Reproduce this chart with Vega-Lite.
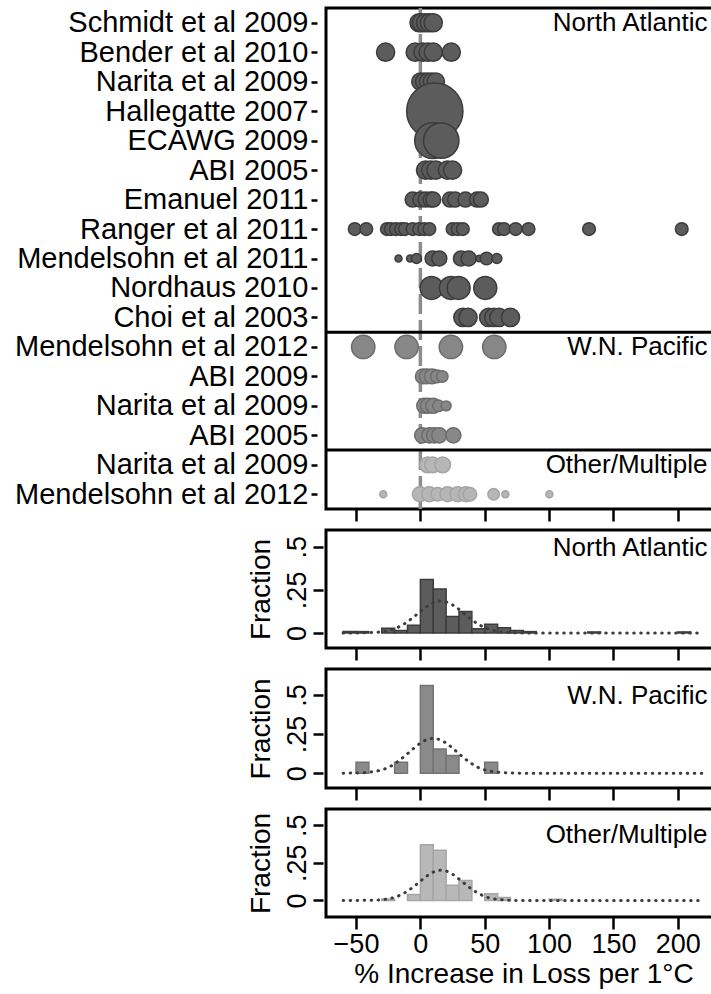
{
  "$schema": "https://vega.github.io/schema/vega-lite/v6.json",
  "padding": {"left": 13, "top": 4, "right": 0, "bottom": 0},
  "spacing": 4,
  "config": {
    "font": "Liberation Sans",
    "view": {"stroke": "#000000", "strokeWidth": 3},
    "axis": {"grid": false, "domain": false, "tickColor": "#000000", "tickWidth": 2.5, "labelColor": "#000000", "titleColor": "#000000", "labelFontSize": 27, "titleFontSize": 28, "titleFontWeight": "normal", "labelFont": "Liberation Sans", "titleFont": "Liberation Sans", "labelLimit": 0, "labelOverlap": false},
    "text": {"font": "Liberation Sans"}
  },
  "datasets": {
    "dots": [
      {"row": 0, "region": "NA", "v": -1, "w": 10}, {"row": 0, "region": "NA", "v": 1, "w": 10}, {"row": 0, "region": "NA", "v": 4, "w": 10}, {"row": 0, "region": "NA", "v": 7, "w": 10}, {"row": 0, "region": "NA", "v": 10, "w": 10},
      {"row": 1, "region": "NA", "v": -27, "w": 10}, {"row": 1, "region": "NA", "v": -4, "w": 10}, {"row": 1, "region": "NA", "v": 2, "w": 10}, {"row": 1, "region": "NA", "v": 6, "w": 10}, {"row": 1, "region": "NA", "v": 10, "w": 10}, {"row": 1, "region": "NA", "v": 24, "w": 10},
      {"row": 2, "region": "NA", "v": 0, "w": 9}, {"row": 2, "region": "NA", "v": 3, "w": 9}, {"row": 2, "region": "NA", "v": 6, "w": 9}, {"row": 2, "region": "NA", "v": 9, "w": 9}, {"row": 2, "region": "NA", "v": 12, "w": 9},
      {"row": 3, "region": "NA", "v": 11.2, "w": 96},
      {"row": 4, "region": "NA", "v": 9.5, "w": 39}, {"row": 4, "region": "NA", "v": 16.2, "w": 38},
      {"row": 5, "region": "NA", "v": 4, "w": 10}, {"row": 5, "region": "NA", "v": 8, "w": 10}, {"row": 5, "region": "NA", "v": 12, "w": 10}, {"row": 5, "region": "NA", "v": 21, "w": 10}, {"row": 5, "region": "NA", "v": 25, "w": 10},
      {"row": 6, "region": "NA", "v": -6, "w": 6.8}, {"row": 6, "region": "NA", "v": 0, "w": 6.8}, {"row": 6, "region": "NA", "v": 4, "w": 6.8}, {"row": 6, "region": "NA", "v": 8, "w": 6.8}, {"row": 6, "region": "NA", "v": 10, "w": 6.8}, {"row": 6, "region": "NA", "v": 23, "w": 6.8}, {"row": 6, "region": "NA", "v": 27, "w": 6.8}, {"row": 6, "region": "NA", "v": 35, "w": 6.8}, {"row": 6, "region": "NA", "v": 44, "w": 6.8}, {"row": 6, "region": "NA", "v": 47, "w": 6.8},
      {"row": 7, "region": "NA", "v": -51, "w": 4.9}, {"row": 7, "region": "NA", "v": -42, "w": 4.9}, {"row": 7, "region": "NA", "v": -26, "w": 4.9}, {"row": 7, "region": "NA", "v": -23, "w": 4.9}, {"row": 7, "region": "NA", "v": -19, "w": 4.9}, {"row": 7, "region": "NA", "v": -15, "w": 4.9}, {"row": 7, "region": "NA", "v": -12, "w": 4.9}, {"row": 7, "region": "NA", "v": -6, "w": 4.9}, {"row": 7, "region": "NA", "v": -1, "w": 4.9}, {"row": 7, "region": "NA", "v": 3, "w": 4.9}, {"row": 7, "region": "NA", "v": 7, "w": 4.9}, {"row": 7, "region": "NA", "v": 25, "w": 4.9}, {"row": 7, "region": "NA", "v": 29, "w": 4.9}, {"row": 7, "region": "NA", "v": 33, "w": 4.9}, {"row": 7, "region": "NA", "v": 61, "w": 4.9}, {"row": 7, "region": "NA", "v": 65, "w": 4.9}, {"row": 7, "region": "NA", "v": 74, "w": 4.9}, {"row": 7, "region": "NA", "v": 84, "w": 4.9}, {"row": 7, "region": "NA", "v": 131, "w": 4.9}, {"row": 7, "region": "NA", "v": 203, "w": 4.9},
      {"row": 8, "region": "NA", "v": -17, "w": 1.5}, {"row": 8, "region": "NA", "v": -8, "w": 1.5}, {"row": 8, "region": "NA", "v": -3, "w": 3}, {"row": 8, "region": "NA", "v": 9.5, "w": 6.8}, {"row": 8, "region": "NA", "v": 14.7, "w": 6.8}, {"row": 8, "region": "NA", "v": 31.5, "w": 6.8}, {"row": 8, "region": "NA", "v": 37.5, "w": 6.8}, {"row": 8, "region": "NA", "v": 45.8, "w": 1.3}, {"row": 8, "region": "NA", "v": 51.4, "w": 4.9}, {"row": 8, "region": "NA", "v": 59.4, "w": 3},
      {"row": 9, "region": "NA", "v": 8.7, "w": 16}, {"row": 9, "region": "NA", "v": 23.7, "w": 16}, {"row": 9, "region": "NA", "v": 29.7, "w": 16}, {"row": 9, "region": "NA", "v": 50.4, "w": 16},
      {"row": 10, "region": "NA", "v": 33, "w": 10}, {"row": 10, "region": "NA", "v": 37, "w": 10}, {"row": 10, "region": "NA", "v": 53, "w": 10}, {"row": 10, "region": "NA", "v": 57, "w": 10}, {"row": 10, "region": "NA", "v": 61, "w": 10}, {"row": 10, "region": "NA", "v": 70, "w": 10},
      {"row": 11, "region": "WNP", "v": -44.4, "w": 16.5}, {"row": 11, "region": "WNP", "v": -10.7, "w": 16.5}, {"row": 11, "region": "WNP", "v": 23.7, "w": 16.5}, {"row": 11, "region": "WNP", "v": 57.4, "w": 16.5},
      {"row": 12, "region": "WNP", "v": 2, "w": 6.8}, {"row": 12, "region": "WNP", "v": 5, "w": 6.8}, {"row": 12, "region": "WNP", "v": 9, "w": 6.8}, {"row": 12, "region": "WNP", "v": 13, "w": 5}, {"row": 12, "region": "WNP", "v": 17, "w": 4},
      {"row": 13, "region": "WNP", "v": 3, "w": 6.8}, {"row": 13, "region": "WNP", "v": 6, "w": 6.8}, {"row": 13, "region": "WNP", "v": 10, "w": 6.8}, {"row": 13, "region": "WNP", "v": 14, "w": 4}, {"row": 13, "region": "WNP", "v": 20, "w": 3},
      {"row": 14, "region": "WNP", "v": 1.4, "w": 7}, {"row": 14, "region": "WNP", "v": 7, "w": 7}, {"row": 14, "region": "WNP", "v": 10.8, "w": 7}, {"row": 14, "region": "WNP", "v": 14.7, "w": 7}, {"row": 14, "region": "WNP", "v": 25.6, "w": 7},
      {"row": 15, "region": "OTH", "v": 5.6, "w": 7.5}, {"row": 15, "region": "OTH", "v": 9.5, "w": 7.5}, {"row": 15, "region": "OTH", "v": 17.3, "w": 7.5},
      {"row": 16, "region": "OTH", "v": -28.8, "w": 1.5}, {"row": 16, "region": "OTH", "v": -0.4, "w": 6.8}, {"row": 16, "region": "OTH", "v": 6.9, "w": 6.8}, {"row": 16, "region": "OTH", "v": 13.4, "w": 5.5}, {"row": 16, "region": "OTH", "v": 21.1, "w": 6.8}, {"row": 16, "region": "OTH", "v": 28.9, "w": 6.8}, {"row": 16, "region": "OTH", "v": 35.4, "w": 6.8}, {"row": 16, "region": "OTH", "v": 38.5, "w": 5.5}, {"row": 16, "region": "OTH", "v": 56.9, "w": 4}, {"row": 16, "region": "OTH", "v": 66, "w": 1.5}, {"row": 16, "region": "OTH", "v": 100.2, "w": 1.5}
    ],
    "hist": [
      {"region": "NA", "b0": -60, "b1": -50, "f": 0.008}, {"region": "NA", "b0": -50, "b1": -40, "f": 0.008}, {"region": "NA", "b0": -30, "b1": -20, "f": 0.028}, {"region": "NA", "b0": -20, "b1": -10, "f": 0.015}, {"region": "NA", "b0": -10, "b1": 0, "f": 0.045}, {"region": "NA", "b0": 0, "b1": 10, "f": 0.31}, {"region": "NA", "b0": 10, "b1": 20, "f": 0.255}, {"region": "NA", "b0": 20, "b1": 30, "f": 0.095}, {"region": "NA", "b0": 30, "b1": 40, "f": 0.125}, {"region": "NA", "b0": 40, "b1": 50, "f": 0.025}, {"region": "NA", "b0": 50, "b1": 60, "f": 0.05}, {"region": "NA", "b0": 60, "b1": 70, "f": 0.03}, {"region": "NA", "b0": 70, "b1": 80, "f": 0.015}, {"region": "NA", "b0": 80, "b1": 90, "f": 0.008}, {"region": "NA", "b0": 130, "b1": 140, "f": 0.006}, {"region": "NA", "b0": 200, "b1": 210, "f": 0.006},
      {"region": "WNP", "b0": -50, "b1": -40, "f": 0.07}, {"region": "WNP", "b0": -20, "b1": -10, "f": 0.07}, {"region": "WNP", "b0": 0, "b1": 10, "f": 0.56}, {"region": "WNP", "b0": 10, "b1": 20, "f": 0.155}, {"region": "WNP", "b0": 20, "b1": 30, "f": 0.113}, {"region": "WNP", "b0": 50, "b1": 60, "f": 0.07},
      {"region": "OTH", "b0": -30, "b1": -20, "f": 0.01}, {"region": "OTH", "b0": -10, "b1": 0, "f": 0.04}, {"region": "OTH", "b0": 0, "b1": 10, "f": 0.37}, {"region": "OTH", "b0": 10, "b1": 20, "f": 0.333}, {"region": "OTH", "b0": 20, "b1": 30, "f": 0.1}, {"region": "OTH", "b0": 30, "b1": 40, "f": 0.133}, {"region": "OTH", "b0": 50, "b1": 60, "f": 0.044}, {"region": "OTH", "b0": 60, "b1": 70, "f": 0.02}, {"region": "OTH", "b0": 100, "b1": 110, "f": 0.008}
    ],
    "curves": [
      {"region": "NA", "v": -60, "f": 0}, {"region": "NA", "v": -50, "f": 0}, {"region": "NA", "v": -40, "f": 0.002}, {"region": "NA", "v": -30, "f": 0.007}, {"region": "NA", "v": -25, "f": 0.014}, {"region": "NA", "v": -20, "f": 0.025}, {"region": "NA", "v": -15, "f": 0.042}, {"region": "NA", "v": -10, "f": 0.065}, {"region": "NA", "v": -5, "f": 0.094}, {"region": "NA", "v": 0, "f": 0.125}, {"region": "NA", "v": 5, "f": 0.153}, {"region": "NA", "v": 10, "f": 0.175}, {"region": "NA", "v": 15, "f": 0.185}, {"region": "NA", "v": 20, "f": 0.18}, {"region": "NA", "v": 25, "f": 0.163}, {"region": "NA", "v": 30, "f": 0.137}, {"region": "NA", "v": 35, "f": 0.106}, {"region": "NA", "v": 40, "f": 0.076}, {"region": "NA", "v": 45, "f": 0.051}, {"region": "NA", "v": 50, "f": 0.031}, {"region": "NA", "v": 55, "f": 0.018}, {"region": "NA", "v": 60, "f": 0.009}, {"region": "NA", "v": 70, "f": 0.002}, {"region": "NA", "v": 80, "f": 0}, {"region": "NA", "v": 100, "f": 0}, {"region": "NA", "v": 150, "f": 0}, {"region": "NA", "v": 220, "f": 0},
      {"region": "WNP", "v": -60, "f": 0}, {"region": "WNP", "v": -50, "f": 0.001}, {"region": "WNP", "v": -40, "f": 0.006}, {"region": "WNP", "v": -30, "f": 0.021}, {"region": "WNP", "v": -25, "f": 0.036}, {"region": "WNP", "v": -20, "f": 0.06}, {"region": "WNP", "v": -15, "f": 0.09}, {"region": "WNP", "v": -10, "f": 0.124}, {"region": "WNP", "v": -5, "f": 0.16}, {"region": "WNP", "v": 0, "f": 0.192}, {"region": "WNP", "v": 5, "f": 0.214}, {"region": "WNP", "v": 10, "f": 0.222}, {"region": "WNP", "v": 15, "f": 0.214}, {"region": "WNP", "v": 20, "f": 0.192}, {"region": "WNP", "v": 25, "f": 0.16}, {"region": "WNP", "v": 30, "f": 0.124}, {"region": "WNP", "v": 35, "f": 0.09}, {"region": "WNP", "v": 40, "f": 0.06}, {"region": "WNP", "v": 45, "f": 0.036}, {"region": "WNP", "v": 50, "f": 0.021}, {"region": "WNP", "v": 60, "f": 0.006}, {"region": "WNP", "v": 70, "f": 0.001}, {"region": "WNP", "v": 80, "f": 0}, {"region": "WNP", "v": 150, "f": 0}, {"region": "WNP", "v": 220, "f": 0},
      {"region": "OTH", "v": -60, "f": 0}, {"region": "OTH", "v": -40, "f": 0.001}, {"region": "OTH", "v": -30, "f": 0.005}, {"region": "OTH", "v": -25, "f": 0.01}, {"region": "OTH", "v": -20, "f": 0.021}, {"region": "OTH", "v": -15, "f": 0.038}, {"region": "OTH", "v": -10, "f": 0.062}, {"region": "OTH", "v": -5, "f": 0.093}, {"region": "OTH", "v": 0, "f": 0.128}, {"region": "OTH", "v": 5, "f": 0.162}, {"region": "OTH", "v": 10, "f": 0.188}, {"region": "OTH", "v": 16, "f": 0.2}, {"region": "OTH", "v": 20, "f": 0.195}, {"region": "OTH", "v": 25, "f": 0.174}, {"region": "OTH", "v": 30, "f": 0.142}, {"region": "OTH", "v": 35, "f": 0.107}, {"region": "OTH", "v": 40, "f": 0.074}, {"region": "OTH", "v": 45, "f": 0.047}, {"region": "OTH", "v": 50, "f": 0.027}, {"region": "OTH", "v": 55, "f": 0.014}, {"region": "OTH", "v": 60, "f": 0.007}, {"region": "OTH", "v": 70, "f": 0.001}, {"region": "OTH", "v": 80, "f": 0}, {"region": "OTH", "v": 150, "f": 0}, {"region": "OTH", "v": 220, "f": 0}
    ]
  },
  "vconcat": [
    {
      "width": 395,
      "height": 501,
      "layer": [
        {
          "data": {"values": [{"v": 0}]},
          "mark": {"type": "rule", "color": "#8c8c8c", "strokeWidth": 3.5, "strokeDash": [20, 6]},
          "encoding": {
            "x": {"field": "v", "type": "quantitative", "scale": {"domain": [-73.3, 233.5], "nice": false, "zero": false}, "axis": {"values": [-50, 0, 50, 100, 150, 200], "labels": false, "title": null, "tickSize": 12}}
          }
        },
        {
          "data": {"name": "dots"},
          "mark": {"type": "circle", "opacity": 1, "strokeWidth": 1.5},
          "encoding": {
            "x": {"field": "v", "type": "quantitative", "scale": {"domain": [-73.3, 233.5], "nice": false, "zero": false}, "axis": {"values": [-50, 0, 50, 100, 150, 200], "labels": false, "title": null, "tickSize": 12}},
            "y": {"field": "row", "type": "quantitative", "scale": {"domain": [-0.5, 16.5], "reverse": true, "nice": false, "zero": false}, "axis": {"values": [0, 1, 2, 3, 4, 5, 6, 7, 8, 9, 10, 11, 12, 13, 14, 15, 16], "tickCount": 17, "labelExpr": "['Schmidt et al 2009','Bender et al 2010','Narita et al 2009','Hallegatte 2007','ECAWG 2009','ABI 2005','Emanuel 2011','Ranger et al 2011','Mendelsohn et al 2011','Nordhaus 2010','Choi et al 2003','Mendelsohn et al 2012','ABI 2009','Narita et al 2009','ABI 2005','Narita et al 2009','Mendelsohn et al 2012'][datum.value]", "labelOverlap": false, "labelFontSize": 29, "tickSize": 6, "offset": 9, "labelPadding": 3, "title": null}},
            "size": {"field": "w", "type": "quantitative", "scale": {"type": "linear", "domain": [0, 100], "range": [0, 3300]}, "legend": null},
            "fill": {"field": "region", "type": "nominal", "scale": {"domain": ["NA", "WNP", "OTH"], "range": ["#5c5c5c", "#878787", "#b6b6b6"]}, "legend": null},
            "stroke": {"field": "region", "type": "nominal", "scale": {"domain": ["NA", "WNP", "OTH"], "range": ["#3c3c3c", "#6c6c6c", "#a4a4a4"]}, "legend": null}
          }
        },
        {
          "data": {"values": [{"row": 10.5}, {"row": 14.5}]},
          "mark": {"type": "rule", "color": "#000000", "strokeWidth": 3},
          "encoding": {
            "y": {"field": "row", "type": "quantitative", "scale": {"domain": [-0.5, 16.5], "reverse": true, "nice": false, "zero": false}, "axis": {"values": [0, 1, 2, 3, 4, 5, 6, 7, 8, 9, 10, 11, 12, 13, 14, 15, 16], "tickCount": 17, "labelExpr": "['Schmidt et al 2009','Bender et al 2010','Narita et al 2009','Hallegatte 2007','ECAWG 2009','ABI 2005','Emanuel 2011','Ranger et al 2011','Mendelsohn et al 2011','Nordhaus 2010','Choi et al 2003','Mendelsohn et al 2012','ABI 2009','Narita et al 2009','ABI 2005','Narita et al 2009','Mendelsohn et al 2012'][datum.value]", "labelOverlap": false, "labelFontSize": 29, "tickSize": 6, "offset": 9, "labelPadding": 3, "title": null}}
          }
        },
        {
          "data": {"values": [{"row": 0, "label": "North Atlantic"}, {"row": 11, "label": "W.N. Pacific"}, {"row": 15, "label": "Other/Multiple"}]},
          "mark": {"type": "text", "align": "right", "baseline": "middle", "fontSize": 26, "color": "#000000"},
          "encoding": {
            "x": {"datum": 223, "type": "quantitative", "scale": {"domain": [-73.3, 233.5], "nice": false, "zero": false}, "axis": {"values": [-50, 0, 50, 100, 150, 200], "labels": false, "title": null, "tickSize": 12}},
            "y": {"field": "row", "type": "quantitative", "scale": {"domain": [-0.5, 16.5], "reverse": true, "nice": false, "zero": false}, "axis": {"values": [0, 1, 2, 3, 4, 5, 6, 7, 8, 9, 10, 11, 12, 13, 14, 15, 16], "tickCount": 17, "labelExpr": "['Schmidt et al 2009','Bender et al 2010','Narita et al 2009','Hallegatte 2007','ECAWG 2009','ABI 2005','Emanuel 2011','Ranger et al 2011','Mendelsohn et al 2011','Nordhaus 2010','Choi et al 2003','Mendelsohn et al 2012','ABI 2009','Narita et al 2009','ABI 2005','Narita et al 2009','Mendelsohn et al 2012'][datum.value]", "labelOverlap": false, "labelFontSize": 29, "tickSize": 6, "offset": 9, "labelPadding": 3, "title": null}},
            "text": {"field": "label"}
          }
        }
      ]
    },
    {
      "width": 395,
      "height": 118,
      "layer": [
        {
          "data": {"name": "hist"},
          "transform": [{"filter": "datum.region == 'NA'"}],
          "mark": {"type": "rect", "fill": "#5c5c5c", "stroke": "#3c3c3c", "strokeWidth": 1.5},
          "encoding": {
            "x": {"field": "b0", "type": "quantitative", "scale": {"domain": [-73.3, 233.5], "nice": false, "zero": false}, "axis": {"values": [-50, 0, 50, 100, 150, 200], "labels": false, "title": null, "tickSize": 12}},
            "x2": {"field": "b1"},
            "y": {"field": "f", "type": "quantitative", "scale": {"domain": [-0.087, 0.597], "nice": false, "zero": false}, "axis": {"values": [0, 0.25, 0.5], "labelExpr": "datum.value == 0 ? '0' : datum.value == 0.5 ? '.5' : '.25'", "labelOverlap": false, "labelAngle": 270, "labelAlign": "center", "labelBaseline": "bottom", "tickSize": 10, "offset": 3, "labelPadding": 2, "title": "Fraction", "titlePadding": 8}},
            "y2": {"datum": 0}
          }
        },
        {
          "data": {"name": "curves"},
          "transform": [{"filter": "datum.region == 'NA'"}],
          "mark": {"type": "line", "color": "#3c3c3c", "strokeWidth": 3, "strokeDash": [0.5, 6.5], "strokeCap": "round", "interpolate": "monotone"},
          "encoding": {
            "x": {"field": "v", "type": "quantitative", "scale": {"domain": [-73.3, 233.5], "nice": false, "zero": false}},
            "y": {"field": "f", "type": "quantitative", "scale": {"domain": [-0.087, 0.597], "nice": false, "zero": false}}
          }
        },
        {
          "data": {"values": [{"label": "North Atlantic"}]},
          "mark": {"type": "text", "align": "right", "baseline": "middle", "fontSize": 26, "color": "#000000"},
          "encoding": {
            "x": {"datum": 223, "type": "quantitative"},
            "y": {"datum": 0.49, "type": "quantitative"},
            "text": {"field": "label"}
          }
        }
      ]
    },
    {
      "width": 395,
      "height": 119,
      "layer": [
        {
          "data": {"name": "hist"},
          "transform": [{"filter": "datum.region == 'WNP'"}],
          "mark": {"type": "rect", "fill": "#8a8a8a", "stroke": "#747474", "strokeWidth": 1.5},
          "encoding": {
            "x": {"field": "b0", "type": "quantitative", "scale": {"domain": [-73.3, 233.5], "nice": false, "zero": false}, "axis": {"values": [-50, 0, 50, 100, 150, 200], "labels": false, "title": null, "tickSize": 12}},
            "x2": {"field": "b1"},
            "y": {"field": "f", "type": "quantitative", "scale": {"domain": [-0.095, 0.666], "nice": false, "zero": false}, "axis": {"values": [0, 0.25, 0.5], "labelExpr": "datum.value == 0 ? '0' : datum.value == 0.5 ? '.5' : '.25'", "labelOverlap": false, "labelAngle": 270, "labelAlign": "center", "labelBaseline": "bottom", "tickSize": 10, "offset": 3, "labelPadding": 2, "title": "Fraction", "titlePadding": 8}},
            "y2": {"datum": 0}
          }
        },
        {
          "data": {"name": "curves"},
          "transform": [{"filter": "datum.region == 'WNP'"}],
          "mark": {"type": "line", "color": "#3c3c3c", "strokeWidth": 3, "strokeDash": [0.5, 6.5], "strokeCap": "round", "interpolate": "monotone"},
          "encoding": {
            "x": {"field": "v", "type": "quantitative", "scale": {"domain": [-73.3, 233.5], "nice": false, "zero": false}},
            "y": {"field": "f", "type": "quantitative", "scale": {"domain": [-0.095, 0.666], "nice": false, "zero": false}}
          }
        },
        {
          "data": {"values": [{"label": "W.N. Pacific"}]},
          "mark": {"type": "text", "align": "right", "baseline": "middle", "fontSize": 26, "color": "#000000"},
          "encoding": {
            "x": {"datum": 223, "type": "quantitative"},
            "y": {"datum": 0.495, "type": "quantitative"},
            "text": {"field": "label"}
          }
        }
      ]
    },
    {
      "width": 395,
      "height": 108,
      "layer": [
        {
          "data": {"name": "hist"},
          "transform": [{"filter": "datum.region == 'OTH'"}],
          "mark": {"type": "rect", "fill": "#b8b8b8", "stroke": "#a6a6a6", "strokeWidth": 1.5},
          "encoding": {
            "x": {"field": "b0", "type": "quantitative", "scale": {"domain": [-73.3, 233.5], "nice": false, "zero": false}, "axis": {"values": [-50, 0, 50, 100, 150, 200], "labels": true, "labelOverlap": false, "labelPadding": 2, "title": "% Increase in Loss per 1°C", "titlePadding": 3, "tickSize": 12}},
            "x2": {"field": "b1"},
            "y": {"field": "f", "type": "quantitative", "scale": {"domain": [-0.11, 0.607], "nice": false, "zero": false}, "axis": {"values": [0, 0.25, 0.5], "labelExpr": "datum.value == 0 ? '0' : datum.value == 0.5 ? '.5' : '.25'", "labelOverlap": false, "labelAngle": 270, "labelAlign": "center", "labelBaseline": "bottom", "tickSize": 10, "offset": 3, "labelPadding": 2, "title": "Fraction", "titlePadding": 8}},
            "y2": {"datum": 0}
          }
        },
        {
          "data": {"name": "curves"},
          "transform": [{"filter": "datum.region == 'OTH'"}],
          "mark": {"type": "line", "color": "#3c3c3c", "strokeWidth": 3, "strokeDash": [0.5, 6.5], "strokeCap": "round", "interpolate": "monotone"},
          "encoding": {
            "x": {"field": "v", "type": "quantitative", "scale": {"domain": [-73.3, 233.5], "nice": false, "zero": false}},
            "y": {"field": "f", "type": "quantitative", "scale": {"domain": [-0.11, 0.607], "nice": false, "zero": false}}
          }
        },
        {
          "data": {"values": [{"label": "Other/Multiple"}]},
          "mark": {"type": "text", "align": "right", "baseline": "middle", "fontSize": 26, "color": "#000000"},
          "encoding": {
            "x": {"datum": 223, "type": "quantitative"},
            "y": {"datum": 0.435, "type": "quantitative"},
            "text": {"field": "label"}
          }
        }
      ]
    }
  ]
}
